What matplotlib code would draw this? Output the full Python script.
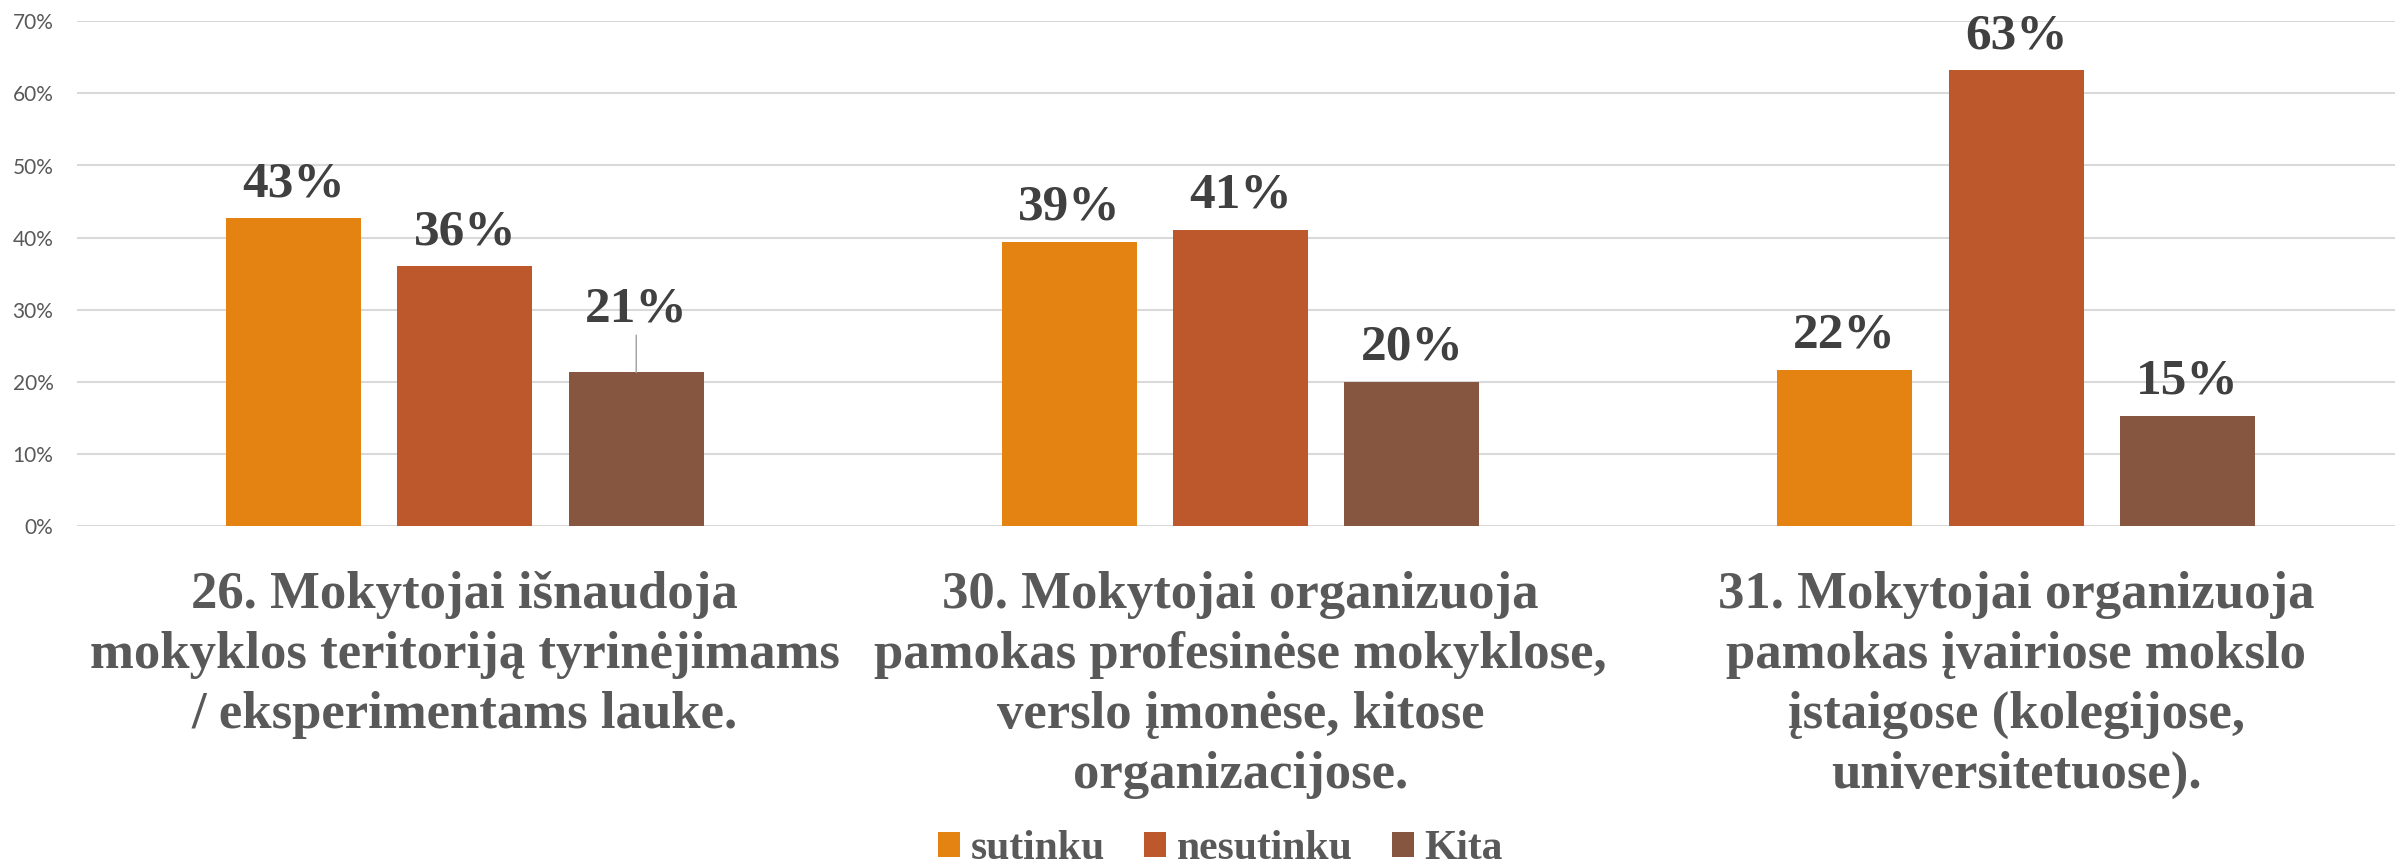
import matplotlib
matplotlib.use("Agg")
import matplotlib.pyplot as plt
from matplotlib.patches import Patch
from matplotlib.transforms import blended_transform_factory

# ---- data ----
categories = [
    "26. Mokytojai išnaudoja\nmokyklos teritoriją tyrinėjimams\n/ eksperimentams lauke.",
    "30. Mokytojai organizuoja\npamokas profesinėse mokyklose,\nverslo įmonėse, kitose\norganizacijose.",
    "31. Mokytojai organizuoja\npamokas įvairiose mokslo\nįstaigose (kolegijose,\nuniversitetuose).",
]
series_names = ["sutinku", "nesutinku", "Kita"]
sutinku = [42.7, 39.4, 21.7]
nesutinku = [36.0, 41.1, 63.2]
kita = [21.3, 20.0, 15.3]
yticks = [0, 10, 20, 30, 40, 50, 60, 70]

series = [sutinku, nesutinku, kita]
colors = ["#E48312", "#BD582C", "#865640"]

W, H, DPI = 2395, 866, 100
fig = plt.figure(figsize=(W / DPI, H / DPI), dpi=DPI)
fig.patch.set_facecolor("white")

left_px, right_px = 77, 2404
top_px, bottom_px = 21.3, 526
ax = fig.add_axes([left_px / W, (H - bottom_px) / H,
                   (right_px - left_px) / W, (bottom_px - top_px) / H])

serif = ["Liberation Serif", "DejaVu Serif"]
step = 0.221
bw = 0.174
for j, (vals, col) in enumerate(zip(series, colors)):
    xs = [i + (j - 1) * step for i in range(len(categories))]
    ax.bar(xs, vals, width=bw, color=col, zorder=2)
    for i, (x, v) in enumerate(zip(xs, vals)):
        if (j, i) == (2, 0):
            ax.annotate(f"{round(v)}%", xy=(x, v), xytext=(0, 36.7),
                        textcoords="offset points", ha="center", va="baseline",
                        fontsize=37, fontweight="bold", family=serif, color="#404040",
                        arrowprops=dict(arrowstyle="-", color="#A6A6A6", lw=1.1,
                                        shrinkA=0, shrinkB=0), zorder=3)
        else:
            ax.annotate(f"{round(v)}%", xy=(x, v), xytext=(0, 15.8),
                        textcoords="offset points", ha="center", va="baseline",
                        fontsize=37, fontweight="bold", family=serif, color="#404040",
                        zorder=3)

ax.set_xlim(-0.5, len(categories) - 0.5)
ax.set_ylim(0, 70)
ax.set_yticks(yticks)
ax.set_yticklabels([f"{t}%" for t in yticks], family=["Lato", "DejaVu Sans"],
                   fontsize=15, color="#595959")
ax.tick_params(axis="y", length=0, pad=17)
ax.set_xticks([])
for s in ax.spines.values():
    s.set_visible(False)
ax.yaxis.grid(True, color="#D9D9D9", lw=1.5, zorder=0)
ax.set_axisbelow(True)

trans = blended_transform_factory(ax.transData, fig.transFigure)
for i, c in enumerate(categories):
    ax.text(i, (H - 571) / H, c, transform=trans, ha="center", va="top",
            multialignment="center", fontsize=38, fontweight="bold", family=serif,
            color="#595959", linespacing=1.32, clip_on=False)

handles = [Patch(facecolor=c, edgecolor="none") for c in colors]
fig.legend(handles, series_names, loc="center",
           bbox_to_anchor=(1220.5 / W, (H - 849) / H), ncol=3, frameon=False,
           prop=dict(family=serif, weight="bold", size=30),
           labelcolor="#595959", handlelength=0.53, handleheight=0.53,
           handletextpad=0.25, columnspacing=0.95, borderpad=0, borderaxespad=0)

fig.savefig("out.png", dpi=DPI, facecolor="white")
